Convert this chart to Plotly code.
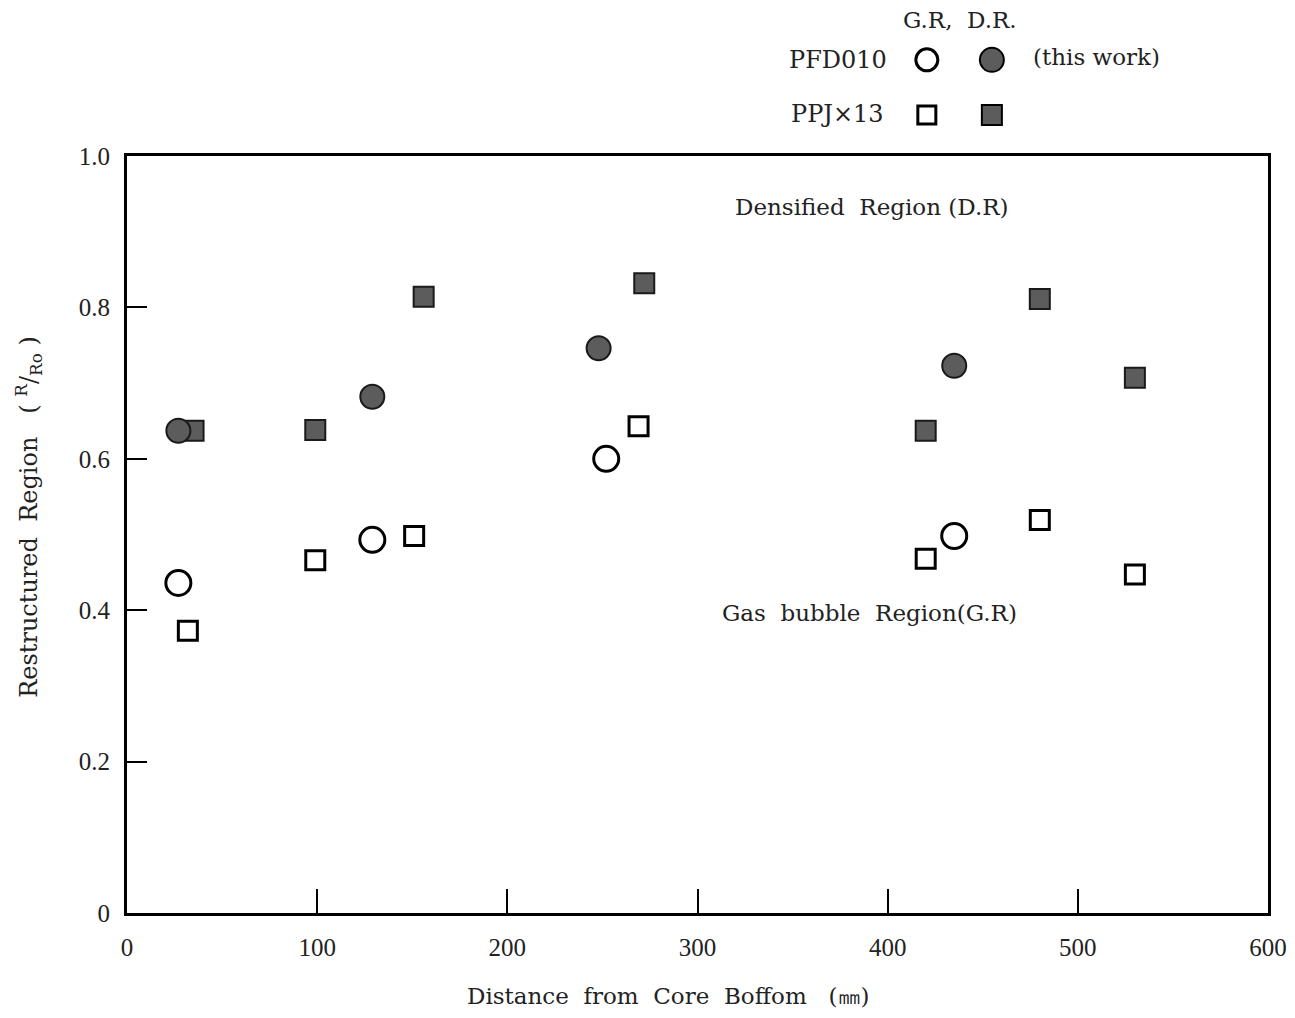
import plotly.graph_objects as go

# ---- data ----
pfd_gr_x = [27, 129, 252, 435]
pfd_gr_y = [0.436, 0.493, 0.600, 0.498]
pfd_dr_x = [27, 129, 248, 435]
pfd_dr_y = [0.637, 0.682, 0.746, 0.723]
ppj_gr_x = [32, 99, 151, 269, 420, 480, 530]
ppj_gr_y = [0.373, 0.466, 0.498, 0.643, 0.468, 0.519, 0.447]
ppj_dr_x = [35, 99, 156, 272, 420, 480, 530]
ppj_dr_y = [0.637, 0.638, 0.814, 0.832, 0.637, 0.811, 0.707]

x_ticks = [0, 100, 200, 300, 400, 500, 600]
y_ticks = [0, 0.2, 0.4, 0.6, 0.8, 1.0]
y_ticktext = ["0", "0.2", "0.4", "0.6", "0.8", "1.0"]

FONT = "DejaVu Serif"
TICKFONT = "Liberation Serif"
FILL = "#5c5c5c"
EDGE = "#1a1a1a"
TXT = "#222"

fig = go.Figure()
fig.add_trace(go.Scatter(x=ppj_dr_x, y=ppj_dr_y, mode="markers", name="PPJ×13 D.R",
                         marker=dict(symbol="square", size=20, color=FILL,
                                     line=dict(color=EDGE, width=2))))
fig.add_trace(go.Scatter(x=pfd_dr_x, y=pfd_dr_y, mode="markers", name="PFD010 D.R",
                         marker=dict(symbol="circle", size=24, color=FILL,
                                     line=dict(color=EDGE, width=2))))
fig.add_trace(go.Scatter(x=ppj_gr_x, y=ppj_gr_y, mode="markers", name="PPJ×13 G.R",
                         marker=dict(symbol="square", size=19, color="white",
                                     line=dict(color="black", width=3))))
fig.add_trace(go.Scatter(x=pfd_gr_x, y=pfd_gr_y, mode="markers", name="PFD010 G.R",
                         marker=dict(symbol="circle", size=25, color="white",
                                     line=dict(color="black", width=3))))

axis_common = dict(showline=True, linecolor="black", linewidth=3, mirror=True,
                   ticks="inside", tickcolor="black", tickwidth=2,
                   showgrid=False, zeroline=False, ticklabeloverflow="allow",
                   automargin=False,
                   tickfont=dict(family=TICKFONT, size=25, color=TXT))

fig.update_xaxes(range=[0, 600], tickvals=x_ticks, ticklen=24,
                 ticklabelstandoff=10, **axis_common)
fig.update_yaxes(range=[0, 1.0], tickvals=y_ticks, ticktext=y_ticktext, ticklen=20,
                 ticklabelstandoff=9, **axis_common)

annotations = [
    dict(text="Densified  Region (D.R)", x=0.653, y=0.933, size=23),
    dict(text="Gas  bubble  Region(G.R)", x=0.651, y=0.396, size=23),
    dict(text="G.R,  D.R.", x=0.730, y=1.180, size=23),
    dict(text="PFD010", x=0.623, y=1.127, size=24),
    dict(text="(this work)", x=0.850, y=1.131, size=23),
    dict(text="PPJ×13", x=0.623, y=1.055, size=24),
    dict(text="Distance  from  Core  Boffom   (㎜)", x=0.475, y=-0.109, size=23),
    dict(text="Restructured  Region   ( <sup>R</sup>/<sub>Ro</sub> )", x=-0.087, y=0.523,
         size=24, textangle=-90),
]
for a in annotations:
    size = a.pop("size")
    fig.add_annotation(xref="paper", yref="paper", showarrow=False,
                       xanchor="center", yanchor="middle",
                       font=dict(family=FONT, size=size, color=TXT), **a)

# legend symbols
def sym(kind, xp, yp, size, fill, lw):
    fig.add_shape(type=kind, xref="paper", yref="paper",
                  xsizemode="pixel", ysizemode="pixel",
                  xanchor=xp, yanchor=yp,
                  x0=-size / 2, x1=size / 2, y0=-size / 2, y1=size / 2,
                  fillcolor=fill, line=dict(color="black", width=lw))

sym("circle", 0.701, 1.127, 22, "white", 3)
sym("circle", 0.758, 1.127, 24, FILL, 2)
sym("rect", 0.701, 1.054, 18, "white", 3)
sym("rect", 0.758, 1.054, 20, FILL, 2)

fig.update_layout(width=1279, height=1002, showlegend=False,
                  plot_bgcolor="white", paper_bgcolor="white",
                  margin=dict(l=119, r=19, t=148, b=97, autoexpand=False))

fig.write_html("out.html")
